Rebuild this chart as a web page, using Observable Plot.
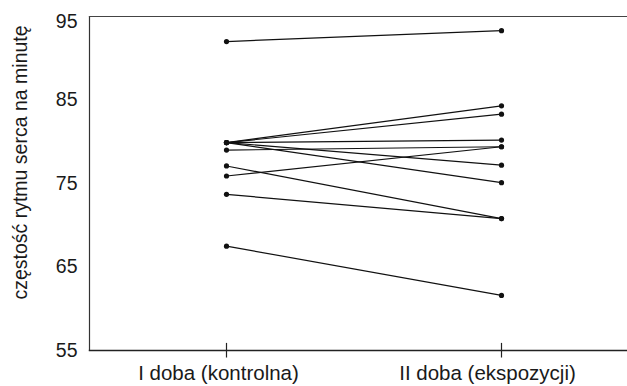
<!DOCTYPE html>
<html>
<head>
<meta charset="utf-8">
<script src="https://cdn.jsdelivr.net/npm/d3@7"></script>
<script src="https://cdn.jsdelivr.net/npm/@observablehq/plot@0.6"></script>
<style>
  body { margin: 0; background: #fff; }
  #chart svg { display: block; }
</style>
</head>
<body>
<div id="chart"></div>
<script>
const days = ["I doba (kontrolna)", "II doba (ekspozycji)"];
const controlDay = [92, 79.9, 79.9, 79.9, 79.9, 79.9, 79.0, 77.1, 75.9, 73.7, 67.5];
const exposureDay = [93.3, 84.3, 83.3, 80.2, 77.2, 75.1, 79.4, 70.8, 79.4, 70.8, 61.6];
const yTicks = [55, 65, 75, 85, 95];
const yTitle = "częstość rytmu serca na minutę";

const points = [];
const segments = [];
controlDay.forEach((v, i) => {
  points.push({day: days[0], value: v, id: i});
  points.push({day: days[1], value: exposureDay[i], id: i});
  segments.push({x1: days[0], y1: v, x2: days[1], y2: exposureDay[i]});
});

const font = "'Liberation Sans', Arial, Helvetica, sans-serif";

const chart = Plot.plot({
  width: 627,
  height: 386,
  marginLeft: 89,
  marginRight: 0,
  marginTop: 16,
  marginBottom: 36,
  style: {fontFamily: font, fontSize: "19px", color: "#1a1a1a", background: "#fff"},
  x: {type: "point", domain: days, range: [226, 501], padding: 0},
  y: {domain: [55, 95]},
  marks: [
    Plot.frame({anchor: "left", stroke: "#333", strokeWidth: 1.2}),
    Plot.frame({anchor: "top", stroke: "#444", strokeWidth: 1.2}),
    Plot.frame({anchor: "bottom", stroke: "#222", strokeWidth: 1.4}),
    Plot.axisY(yTicks.filter(t => t !== 95), {tickSize: 0, tickPadding: 12, label: null, fontSize: 19.5}),
    Plot.axisY([95], {tickSize: 0, tickPadding: 12, label: null, fontSize: 19.5, dy: 5}),
    Plot.ruleX(days, {x: d => d, y1: 54.1, y2: 55.85, stroke: "#222", strokeWidth: 1.2}),
    Plot.axisX([days[0]], {tickSize: 0, tickPadding: 15, label: null, fontSize: 20.5, dx: -8}),
    Plot.axisX([days[1]], {tickSize: 0, tickPadding: 15, label: null, fontSize: 20.5, dx: -14}),
    Plot.text([yTitle], {frameAnchor: "left", dx: -69, dy: -21, rotate: -90, textAnchor: "middle", fontSize: 19.5, fill: "#1a1a1a"}),
    Plot.link(segments, {x1: "x1", y1: "y1", x2: "x2", y2: "y2", stroke: "#111", strokeWidth: 1.2}),
    Plot.dot(points, {x: "day", y: "value", r: 2.6, fill: "#111", stroke: null})
  ]
});
document.getElementById("chart").append(chart);
</script>
</body>
</html>
